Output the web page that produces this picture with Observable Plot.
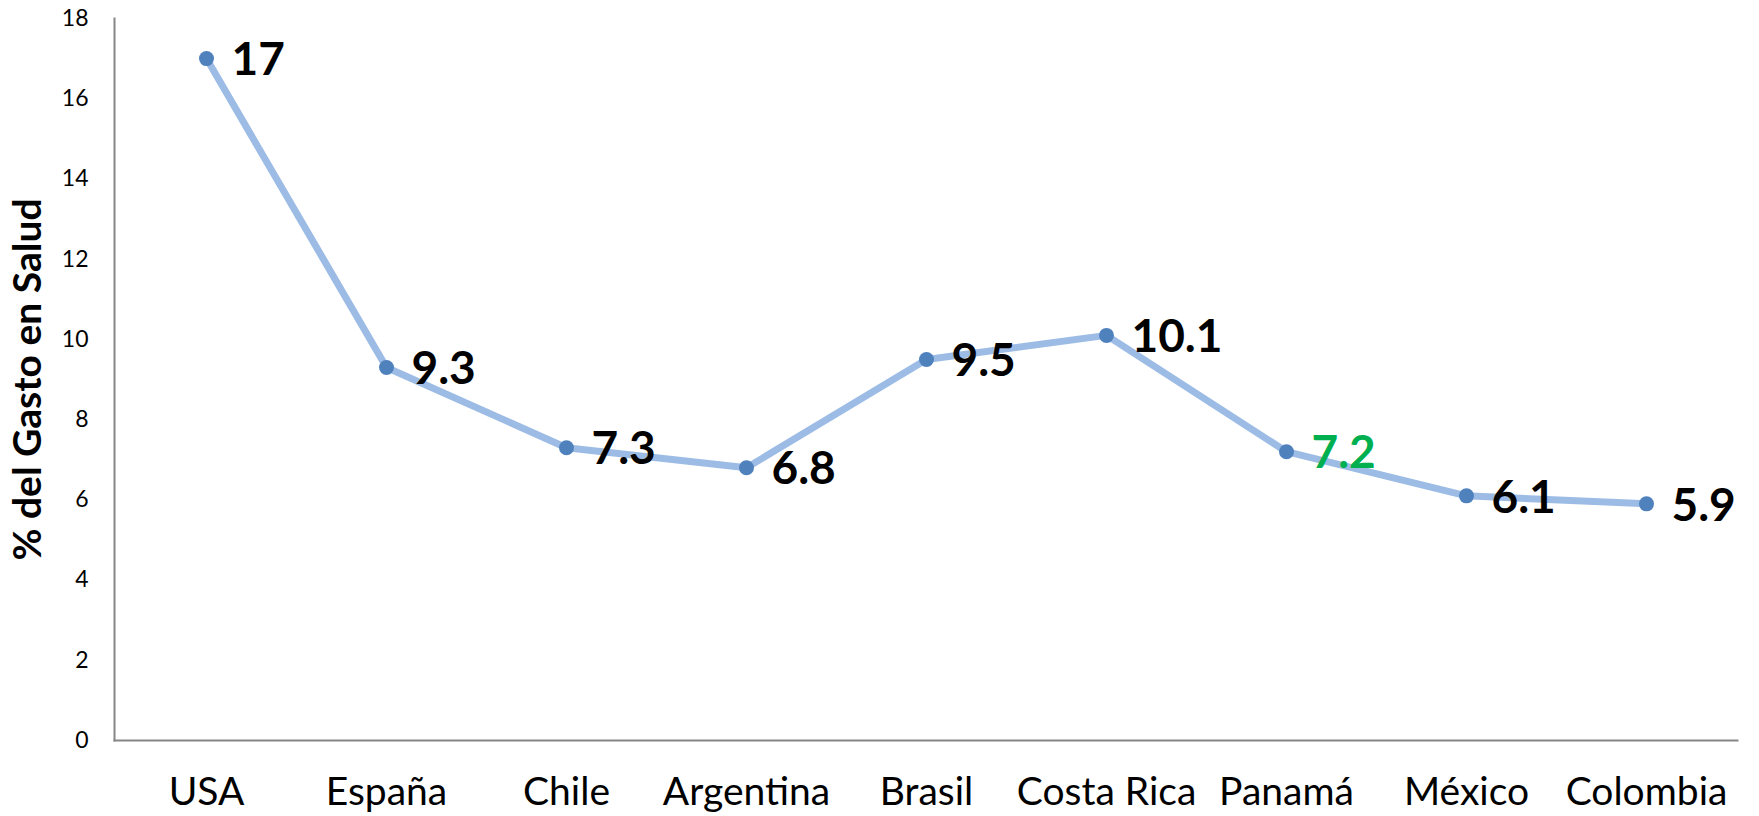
<!DOCTYPE html>
<html>
<head>
<meta charset="utf-8">
<script src="https://cdn.jsdelivr.net/npm/d3@7"></script>
<script src="https://cdn.jsdelivr.net/npm/@observablehq/plot@0.6"></script>
<style>
  html, body { margin: 0; padding: 0; background: #fff; }
  #chart svg { display: block; }
</style>
</head>
<body>
<div id="chart"></div>
<script>
const countries = ["USA", "España", "Chile", "Argentina", "Brasil", "Costa Rica", "Panamá", "México", "Colombia"];
const values = [17, 9.3, 7.3, 6.8, 9.5, 10.1, 7.2, 6.1, 5.9];
const labelColors = ["#000", "#000", "#000", "#000", "#000", "#000", "#00b050", "#000", "#000"];
const yTicks = [0, 2, 4, 6, 8, 10, 12, 14, 16, 18];
const yTitle = "% del Gasto en Salud";

const data = countries.map((c, i) => ({country: c, value: values[i], color: labelColors[i]}));

const font = "Lato, 'Open Sans', sans-serif";

const chart = Plot.plot({
  width: 1759,
  height: 816,
  marginLeft: 114,
  marginRight: 22,
  marginTop: 18,
  marginBottom: 76,
  style: {fontFamily: font, color: "#000", background: "#fff"},
  x: {type: "point", domain: countries, padding: 0.5},
  y: {domain: [0, 18]},
  marks: [
    Plot.axisY({ticks: yTicks, tickSize: 0, tickPadding: 26, fontSize: 23, label: null}),
    Plot.axisX({tickSize: 0, tickPadding: 37, fontSize: 39, label: null}),
    Plot.frame({anchor: "left", stroke: "#868686", strokeWidth: 2}),
    Plot.frame({anchor: "bottom", stroke: "#868686", strokeWidth: 2}),
    Plot.text([yTitle], {frameAnchor: "left", textAnchor: "middle", rotate: -90, dx: -86, fontSize: 39, fontWeight: "bold", fill: "#000"}),
    Plot.line(data, {x: "country", y: "value", stroke: "#9dbce5", strokeWidth: 7}),
    Plot.dot(data, {x: "country", y: "value", r: 7.5, fill: "#4f81bd", stroke: "none"}),
    Plot.text(data, {x: "country", y: "value", text: d => String(d.value), fill: "color", textAnchor: "start", dx: 25, dy: 2, fontSize: 46, fontWeight: "bold"})
  ]
});
document.getElementById("chart").appendChild(chart);
</script>
</body>
</html>
